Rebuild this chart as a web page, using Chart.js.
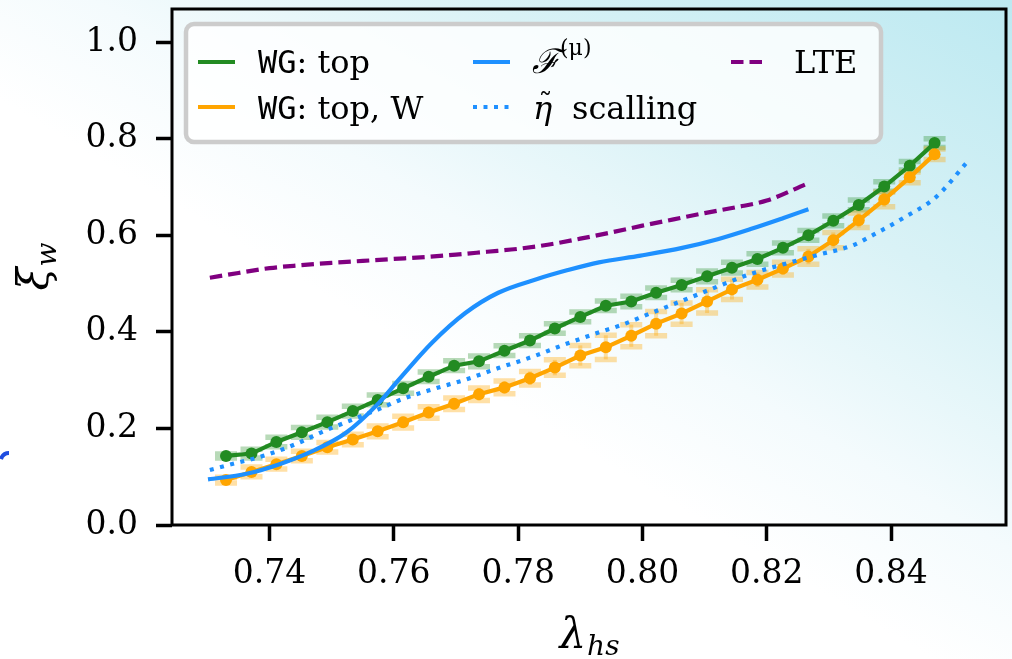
<!DOCTYPE html>
<html>
<head>
<meta charset="utf-8">
<script src="https://cdn.jsdelivr.net/npm/chart.js@4.4.1/dist/chart.umd.min.js"></script>
<style>
  html, body { margin: 0; padding: 0; background: #fff; }
</style>
</head>
<body>
<canvas id="chart" width="1012" height="659"></canvas>
<script>
// lattice points of the WG runs
const lambdaWG = [0.7330, 0.7371, 0.7411, 0.7452, 0.7493, 0.7534, 0.7574, 0.7615, 0.7656, 0.7697,
  0.7737, 0.7778, 0.7819, 0.7859, 0.7900, 0.7941, 0.7982, 0.8022, 0.8063, 0.8104,
  0.8144, 0.8185, 0.8226, 0.8267, 0.8307, 0.8348, 0.8389, 0.8430, 0.8470];

const xiTop = [0.143, 0.148, 0.172, 0.192, 0.213, 0.236, 0.259, 0.283, 0.307, 0.330,
  0.339, 0.361, 0.382, 0.407, 0.431, 0.454, 0.463, 0.481, 0.497, 0.515,
  0.533, 0.551, 0.574, 0.600, 0.630, 0.663, 0.701, 0.744, 0.791];
const xiTopErr = [0.004, 0.009, 0.010, 0.010, 0.010, 0.010, 0.010, 0.010, 0.010, 0.010,
  0.011, 0.010, 0.010, 0.010, 0.010, 0.010, 0.011, 0.010, 0.010, 0.011,
  0.011, 0.011, 0.010, 0.010, 0.010, 0.010, 0.010, 0.009, 0.009];

const xiTopW = [0.093, 0.110, 0.126, 0.143, 0.161, 0.177, 0.194, 0.213, 0.233, 0.251,
  0.271, 0.285, 0.304, 0.326, 0.351, 0.368, 0.392, 0.417, 0.438, 0.463,
  0.488, 0.508, 0.531, 0.556, 0.590, 0.631, 0.674, 0.720, 0.768];
const xiTopWErr = [0.006, 0.010, 0.010, 0.010, 0.010, 0.011, 0.011, 0.012, 0.012, 0.012,
  0.013, 0.013, 0.014, 0.016, 0.021, 0.025, 0.023, 0.025, 0.022, 0.024,
  0.021, 0.015, 0.013, 0.016, 0.016, 0.015, 0.015, 0.011, 0.011];

// F^(mu) curve
const lambdaF = [0.7301, 0.7363, 0.7416, 0.7469, 0.7523, 0.7576, 0.7608, 0.7661, 0.7715, 0.7768,
  0.7832, 0.7880, 0.7930, 0.7997, 0.8064, 0.8121, 0.8174, 0.8227, 0.8267];
const xiF = [0.0945, 0.106, 0.126, 0.153, 0.191, 0.253, 0.301, 0.377, 0.439, 0.481,
  0.510, 0.528, 0.544, 0.558, 0.574, 0.592, 0.613, 0.636, 0.654];

// eta scaling curve
const lambdaEta = [0.7304, 0.7336, 0.7395, 0.7443, 0.7485, 0.7533, 0.7576, 0.7608, 0.7662, 0.7715,
  0.7768, 0.7822, 0.7875, 0.7928, 0.7968, 0.8014, 0.8067, 0.8121, 0.8174, 0.8227,
  0.8281, 0.8340, 0.8370, 0.8420, 0.8473, 0.8521];
const xiEta = [0.114, 0.125, 0.145, 0.168, 0.193, 0.218, 0.240, 0.258, 0.281, 0.301,
  0.325, 0.348, 0.374, 0.398, 0.415, 0.439, 0.466, 0.494, 0.520, 0.540,
  0.559, 0.580, 0.600, 0.636, 0.680, 0.7495];

// LTE curve
const lambdaLTE = [0.7304, 0.7350, 0.7400, 0.7450, 0.7500, 0.7550, 0.7600, 0.7650, 0.7700, 0.7750,
  0.7800, 0.7850, 0.7900, 0.7950, 0.8000, 0.8050, 0.8100, 0.8150, 0.8200, 0.8265];
const xiLTE = [0.512, 0.522, 0.532, 0.538, 0.543, 0.547, 0.551, 0.555, 0.560, 0.566,
  0.572, 0.581, 0.593, 0.606, 0.620, 0.633, 0.646, 0.658, 0.672, 0.707];

const xTicks = [0.74, 0.76, 0.78, 0.80, 0.82, 0.84];
const yTicks = [0.0, 0.2, 0.4, 0.6, 0.8, 1.0];

const SERIF = '"DejaVu Serif", serif';
const MONO = '"DejaVu Sans Mono", monospace';
const GREEN = '#228B22', ORANGE = '#FFA500', BLUE = '#1E90FF', PURPLE = '#800080';
const LW = 4.2;

const pts = (xs, ys) => xs.map((x, i) => ({ x, y: ys[i] }));

const bgPlugin = {
  id: 'bg',
  beforeDraw(chart) {
    const { ctx, width, height } = chart;
    ctx.save();
    const g = ctx.createLinearGradient(width, 0, 700, 520);
    g.addColorStop(0, '#bce9f1');
    g.addColorStop(0.45, '#d9f2f6');
    g.addColorStop(0.78, '#f4fbfd');
    g.addColorStop(1, '#ffffff');
    ctx.fillStyle = g;
    ctx.fillRect(0, 0, width, height);
    // stray mark on the left edge
    ctx.strokeStyle = '#1f4de0';
    ctx.lineWidth = 4;
    ctx.beginPath();
    ctx.moveTo(1, 459);
    ctx.quadraticCurveTo(3, 453, 9, 453);
    ctx.stroke();
    ctx.restore();
  }
};

// faint errorbars under the lines
const errPlugin = {
  id: 'errbars',
  beforeDatasetsDraw(chart) {
    const { ctx, scales: { x, y } } = chart;
    const sets = [[xiTop, xiTopErr, 'rgba(34,139,34,0.32)'], [xiTopW, xiTopWErr, 'rgba(255,165,0,0.35)']];
    ctx.save();
    sets.forEach(([vals, errs, col]) => {
      ctx.strokeStyle = col;
      lambdaWG.forEach((lx, i) => {
        const px = x.getPixelForValue(lx);
        const top = y.getPixelForValue(vals[i] + errs[i]);
        const bot = y.getPixelForValue(vals[i] - errs[i]);
        ctx.lineWidth = 4;
        ctx.beginPath();
        ctx.moveTo(px, top); ctx.lineTo(px, bot);
        ctx.stroke();
        ctx.lineWidth = 5.5;
        ctx.beginPath();
        ctx.moveTo(px - 11, top); ctx.lineTo(px + 11, top);
        ctx.moveTo(px - 11, bot); ctx.lineTo(px + 11, bot);
        ctx.stroke();
      });
    });
    ctx.restore();
  }
};

function drawRuns(ctx, x, y, runs) {
  let cx = x;
  runs.forEach(([t, f, dy]) => {
    ctx.font = f;
    ctx.fillText(t, cx, y + (dy || 0));
    cx += ctx.measureText(t).width;
  });
  return cx;
}

const decoPlugin = {
  id: 'deco',
  afterDatasetsDraw(chart) {
    const { ctx, chartArea: a } = chart;
    ctx.save();
    // frame
    ctx.strokeStyle = '#000';
    ctx.lineWidth = 3;
    ctx.strokeRect(a.left, a.top, a.right - a.left, a.bottom - a.top);

    // axis titles
    ctx.fillStyle = '#000';
    ctx.textBaseline = 'alphabetic';
    ctx.textAlign = 'left';
    ctx.font = 'italic 42px ' + SERIF;
    const wl = ctx.measureText('λ').width;
    ctx.font = 'italic 28px ' + SERIF;
    const wh = ctx.measureText('hs').width;
    const cx = (a.left + a.right) / 2;
    let sx = cx - (wl + wh) / 2;
    ctx.font = 'italic 42px ' + SERIF;
    ctx.fillText('λ', sx, 648);
    ctx.font = 'italic 28px ' + SERIF;
    ctx.fillText('hs', sx + wl + 1, 655);

    ctx.save();
    ctx.translate(0, (a.top + a.bottom) / 2);
    ctx.rotate(-Math.PI / 2);
    ctx.font = 'italic 42px ' + SERIF;
    const wx = ctx.measureText('ξ').width;
    ctx.font = 'italic 28px ' + SERIF;
    const ww = ctx.measureText('w').width;
    sx = -(wx + ww) / 2;
    ctx.font = 'italic 42px ' + SERIF;
    ctx.fillText('ξ', sx, 48);
    ctx.font = 'italic 28px ' + SERIF;
    ctx.fillText('w', sx + wx + 1, 56);
    ctx.restore();

    // legend
    ctx.beginPath();
    ctx.roundRect(186, 24, 695, 118, 8);
    ctx.fillStyle = 'rgba(255,255,255,0.82)';
    ctx.fill();
    ctx.strokeStyle = '#cccccc';
    ctx.lineWidth = 4.5;
    ctx.stroke();

    const handle = (x0, yy, col, dash) => {
      ctx.strokeStyle = col;
      ctx.lineWidth = LW;
      ctx.setLineDash(dash);
      ctx.beginPath();
      ctx.moveTo(x0, yy); ctx.lineTo(x0 + 37, yy);
      ctx.stroke();
      ctx.setLineDash([]);
    };
    const r1 = 62, r2 = 107;
    handle(198, r1, GREEN, []);
    handle(198, r2, ORANGE, []);
    handle(473, r1, BLUE, []);
    handle(473, r2, BLUE, [4, 6.5]);
    handle(731, r1, PURPLE, [12.5, 6]);

    ctx.fillStyle = '#000';
    const f = '32px ' + SERIF, fm = '32px ' + MONO;
    drawRuns(ctx, 258, 73, [['WG', fm], [': top', f]]);
    drawRuns(ctx, 258, 119, [['WG', fm], [': top, W', f]]);
    drawRuns(ctx, 532, 73, [['ℱ', 'italic 34px ' + SERIF], ['(μ)', '22px ' + SERIF, -18]]);
    ctx.font = 'italic 32px ' + SERIF;
    const we = ctx.measureText('η').width;
    ctx.fillText('η', 533, 119);
    ctx.font = '28px ' + SERIF;
    const wt = ctx.measureText('˜').width;
    ctx.fillText('˜', 533 + we / 2 - wt / 2 + 3, 113);
    ctx.font = f;
    ctx.fillText('scalling', 572, 119);
    ctx.fillText('LTE', 794, 73);
    ctx.restore();
  }
};

const lineSet = (label, xs, ys, color, dash, order) => ({
  label, data: pts(xs, ys), showLine: true, borderColor: color, backgroundColor: color,
  borderWidth: LW, borderDash: dash, pointRadius: 0, cubicInterpolationMode: 'monotone', order
});
const wgSet = (label, ys, color, order) => ({
  label, data: pts(lambdaWG, ys), showLine: true, borderColor: color, backgroundColor: color,
  borderWidth: LW, pointRadius: 6, pointBorderWidth: 0, pointBackgroundColor: color, order
});

const noPad = s => { s.paddingTop = 0; s.paddingBottom = 0; s.paddingLeft = 0; s.paddingRight = 0; };

new Chart(document.getElementById('chart'), {
  type: 'scatter',
  data: {
    datasets: [
      wgSet('WG: top', xiTop, GREEN, 3),
      wgSet('WG: top, W', xiTopW, ORANGE, 2),
      lineSet('F(mu)', lambdaF, xiF, BLUE, [], 1),
      lineSet('eta scalling', lambdaEta, xiEta, BLUE, [4, 6.5], 1),
      lineSet('LTE', lambdaLTE, xiLTE, PURPLE, [12.5, 6], 0)
    ]
  },
  options: {
    responsive: false,
    animation: false,
    layout: { padding: { left: 0, right: 2, top: 9, bottom: 0 } },
    plugins: { legend: { display: false }, tooltip: { enabled: false } },
    scales: {
      x: {
        type: 'linear', min: 0.72431, max: 0.85849,
        afterBuildTicks: s => { s.ticks = xTicks.map(v => ({ value: v })); },
        afterFit: s => { s.height = 134; noPad(s); },
        grid: { drawOnChartArea: false, drawTicks: true, tickLength: 16, tickWidth: 3.5, tickColor: '#000' },
        border: { display: false },
        ticks: { color: '#000', font: { family: SERIF, size: 33 }, padding: 14, maxRotation: 0, autoSkip: false,
          callback: v => v.toFixed(2) }
      },
      y: {
        type: 'linear', min: 0, max: 1.0687,
        afterBuildTicks: s => { s.ticks = yTicks.map(v => ({ value: v })); },
        afterFit: s => { s.width = 172; noPad(s); },
        grid: { drawOnChartArea: false, drawTicks: true, tickLength: 16, tickWidth: 3.5, tickColor: '#000' },
        border: { display: false },
        ticks: { color: '#000', font: { family: SERIF, size: 33 }, padding: 18, autoSkip: false,
          callback: v => v.toFixed(1) }
      }
    }
  },
  plugins: [bgPlugin, errPlugin, decoPlugin]
});
</script>
</body>
</html>
